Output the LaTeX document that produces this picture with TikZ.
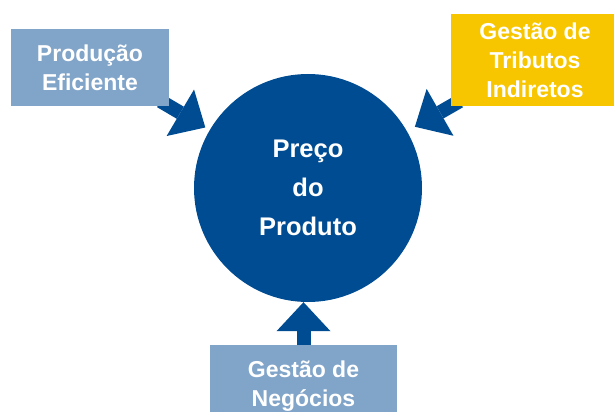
\documentclass[tikz,border=0pt]{standalone}
\usepackage{fontspec}
\setmainfont{Liberation Sans}
\usepackage{tikz}
\usetikzlibrary{arrows.meta,positioning,backgrounds}
\definecolor{morkbla}{HTML}{004C93}
\definecolor{lysbla}{HTML}{81A4C9}
\definecolor{gul}{HTML}{F8C600}
\tikzset{
    %Define style for boxes
    boks/.style={
           rectangle,
           text=white,
           inner sep=0pt,
           align=center,
           font=\bfseries\fontsize{23}{29}\selectfont},
    %Define style for the circle
    rund/.style={
           circle,
           fill=morkbla,
           text=white,
           minimum size=228pt,
           inner sep=0pt,
           align=center,
           font=\bfseries\fontsize{25.5}{39}\selectfont},
    % Define arrow style
    pil/.style={
           -{Triangle[width=54pt,length=29pt,line width=0pt]},
           color=morkbla,
           line width=14pt}
}

\begin{document}
\begin{tikzpicture}[x=1pt,y=-1pt]
  \useasboundingbox (0,0) rectangle (614,412);
  %nodes
  \node[rund] (preco) at (308,188) {Preço\\do\\Produto};
  \node[boks, fill=lysbla, minimum width=158pt, minimum height=77pt] (prod) at (90,67.5) {Produção\\Eficiente};
  \node[boks, fill=gul, minimum width=168pt, minimum height=92pt] (trib) at (535,60) {Gestão de\\Tributos\\Indiretos};
  \node[boks, fill=lysbla, minimum width=187pt, minimum height=82pt, below=43pt of preco, xshift=-4.5pt] (neg) {Gestão de\\Negócios};
  %arrows
  \begin{scope}[on background layer]
    \draw[pil, shorten <=-10pt, shorten >=5pt] (prod.south east) -- (preco);
    \draw[pil, shorten <=-10pt, shorten >=9pt] (trib.south west) -- (preco);
    \draw[pil] (neg.north) -- (neg.north |- preco.south);
  \end{scope}
\end{tikzpicture}
\end{document}
